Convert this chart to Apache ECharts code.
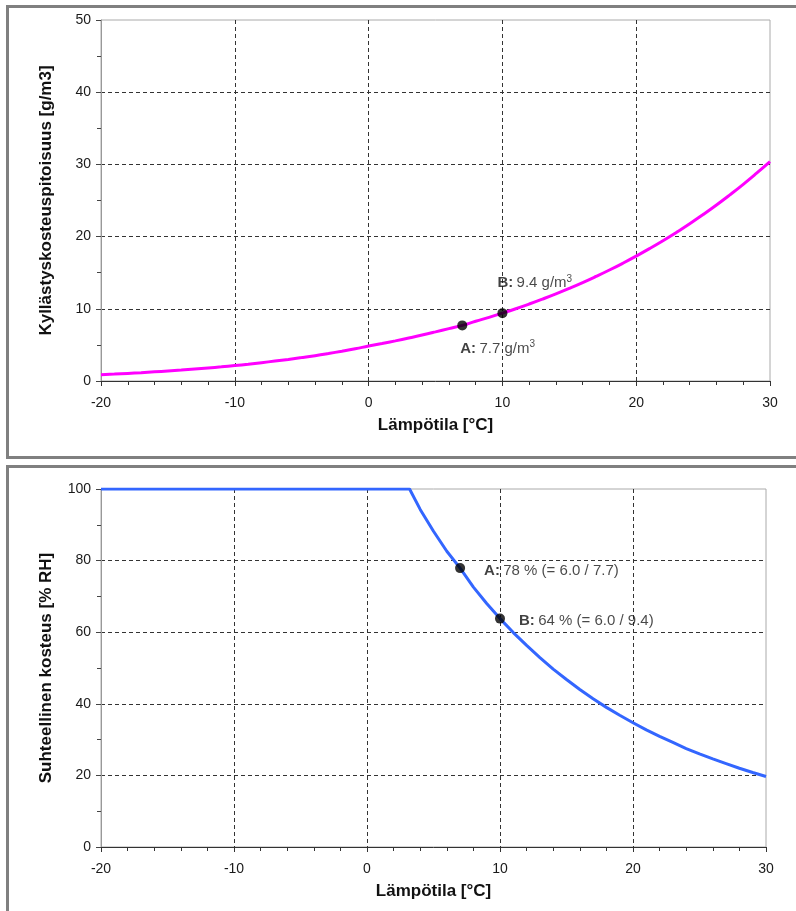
<!DOCTYPE html>
<html>
<head>
<meta charset="utf-8">
<script src="https://cdn.jsdelivr.net/npm/echarts@6/dist/echarts.min.js"></script>
<style>
html,body{margin:0;padding:0;background:#fff;}
#c{width:796px;height:911px;}
</style>
</head>
<body>
<div id="c"></div>
<script>
// Temperature (°C) and saturation vapour density (g/m3)
var temps = [-20,-19,-18,-17,-16,-15,-14,-13,-12,-11,-10,-9,-8,-7,-6,-5,-4,-3,-2,-1,0,1,2,3,4,5,6,7,8,9,10,11,12,13,14,15,16,17,18,19,20,21,22,23,24,25,26,27,28,29,30];
var satDensity = [0.88,0.96,1.05,1.15,1.27,1.39,1.51,1.65,1.80,1.96,2.14,2.33,2.54,2.76,2.99,3.24,3.51,3.81,4.13,4.47,4.84,5.19,5.56,5.95,6.36,6.80,7.26,7.70,8.27,8.82,9.40,10.01,10.66,11.35,12.07,12.83,13.63,14.48,15.37,16.31,17.30,18.34,19.43,20.58,21.78,23.05,24.38,25.78,27.24,28.78,30.38];
// Relative humidity (% RH)
var rhTemps = [-20,3.2,4,5,6,7,8,9,10,11,12,13,14,15,16,17,18,19,20,21,22,23,24,25,26,27,28,29,30];
var rhValues = [100,100,94.3,88.2,82.6,77.9,72.6,68.0,63.8,59.9,56.3,52.9,49.7,46.8,44.0,41.4,39.0,36.8,34.7,32.7,30.9,29.2,27.5,26.0,24.6,23.3,22.0,20.8,19.7];
// Marked points
var pointNames = ['A','B'];
var pointTemps = [7,10];
var pointSat = [7.7,9.4];
var pointRH = [77.9,63.8];
var satTexts = ['7.7 g/m','9.4 g/m'];
var rhTexts = ['78 % (= 6.0 / 7.7)','64 % (= 6.0 / 9.4)'];

var FONT = 'Liberation Sans, Arial, sans-serif';
var chart = echarts.init(document.getElementById('c'), null, {renderer:'canvas'});

function xAxisCfg(gi){
  return {
    type:'value', gridIndex:gi, min:-20, max:30, interval:10,
    name:'Lämpötila [°C]', nameLocation:'middle', nameGap:36,
    nameTextStyle:{fontFamily:FONT,fontSize:17,fontWeight:'bold',color:'#111'},
    axisLine:{show:true,onZero:false,lineStyle:{color:'#333',width:1}},
    axisTick:{show:true,length:5,lineStyle:{color:'#333'}},
    minorTick:{show:true,splitNumber:5,length:4,lineStyle:{color:'#333'}},
    axisLabel:{fontFamily:FONT,fontSize:14,color:'#1a1a1a',margin:15},
    splitLine:{show:true,showMinLine:false,showMaxLine:false,lineStyle:{color:'#333',type:[4,3],width:1}},
    minorSplitLine:{show:false}
  };
}
function yAxisCfg(gi,max,name){
  return {
    type:'value', gridIndex:gi, min:0, max:max, interval:max/5,
    name:name, nameLocation:'middle', nameGap:46,
    nameTextStyle:{fontFamily:FONT,fontSize:17,fontWeight:'bold',color:'#111'},
    axisLine:{show:true,onZero:false,lineStyle:{color:'#999',width:1}},
    axisTick:{show:true,length:5,lineStyle:{color:'#444'}},
    minorTick:{show:true,splitNumber:2,length:4,lineStyle:{color:'#444'}},
    axisLabel:{fontFamily:FONT,fontSize:14,color:'#1a1a1a',margin:10},
    splitLine:{show:true,showMinLine:false,showMaxLine:false,lineStyle:{color:'#333',type:[4,3],width:1}}
  };
}
var richStyle = {
  b:{fontFamily:FONT,fontSize:15,fontWeight:'bold',color:'#111'},
  t:{fontFamily:FONT,fontSize:15,color:'#1a1a1a'},
  s:{fontFamily:FONT,fontSize:10,color:'#1a1a1a',verticalAlign:'top',padding:[0,0,8,0]}
};

var option = {
  animation:false,
  backgroundColor:'#fff',
  graphic:[
    {type:'rect',shape:{x:7.5,y:6.5,width:820,height:451},style:{fill:'none',stroke:'#808080',lineWidth:3},z:100},
    {type:'rect',shape:{x:7.5,y:466.5,width:820,height:480},style:{fill:'none',stroke:'#808080',lineWidth:3},z:100}
  ],
  grid:[
    {left:101,top:20,width:669,height:361,show:true,borderColor:'#aaa',borderWidth:1,backgroundColor:'#fff'},
    {left:101,top:489,width:665,height:358,show:true,borderColor:'#aaa',borderWidth:1,backgroundColor:'#fff'}
  ],
  xAxis:[xAxisCfg(0),xAxisCfg(1)],
  yAxis:[yAxisCfg(0,50,'Kyllästyskosteuspitoisuus [g/m3]'),yAxisCfg(1,100,'Suhteellinen kosteus [% RH]')],
  series:[
    {type:'line',xAxisIndex:0,yAxisIndex:0,showSymbol:false,smooth:true,
      data:temps.map(function(t,i){return [t,satDensity[i]];}),
      lineStyle:{color:'#ff00ff',width:3},z:3},
    {type:'line',xAxisIndex:1,yAxisIndex:1,showSymbol:false,smooth:false,
      data:rhTemps.map(function(t,i){return [t,rhValues[i]];}),
      lineStyle:{color:'#3366ff',width:3},z:3},
    {type:'scatter',xAxisIndex:0,yAxisIndex:0,symbolSize:10,itemStyle:{color:'#000'},z:5,
      data:pointNames.map(function(n,i){
        return {value:[pointTemps[i],pointSat[i]],
          label:{show:true,position: i===0?[3,28]:[0,-25],align:'left',verticalAlign:'middle',
            formatter:'{b|'+n+':} {t|'+satTexts[i]+'}{s|3}',rich:richStyle}};
      })},
    {type:'scatter',xAxisIndex:1,yAxisIndex:1,symbolSize:10,itemStyle:{color:'#000'},z:5,
      data:pointNames.map(function(n,i){
        return {value:[pointTemps[i],pointRH[i]],
          label:{show:true,position: i===0?[29,8]:[24,7],align:'left',verticalAlign:'middle',
            formatter:'{b|'+n+':} {t|'+rhTexts[i]+'}',rich:richStyle}};
      })}
  ]
};
chart.setOption(option);
</script>
</body>
</html>
